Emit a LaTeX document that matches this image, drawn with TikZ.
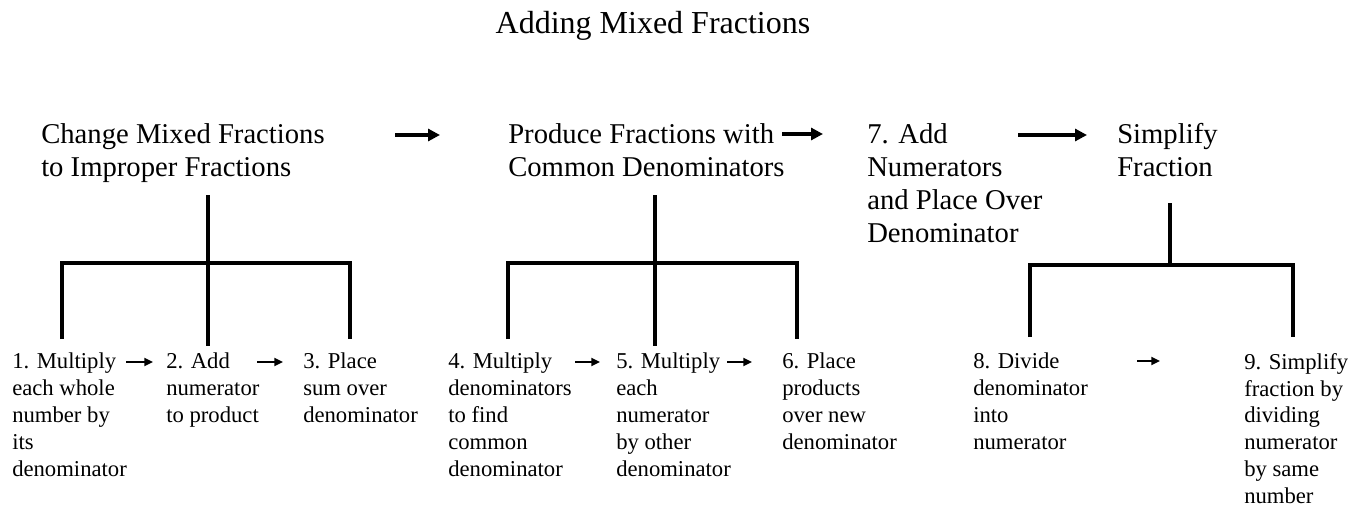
\documentclass[tikz,border=0pt]{standalone}
\usepackage{fontspec}
\setmainfont{Liberation Serif}
\usetikzlibrary{arrows.meta}
\begin{document}
\begin{tikzpicture}[x=0.75pt,y=-0.75pt,
  titletext/.style={font=\fontsize{24}{28}\selectfont, inner sep=0pt, anchor=base},
  mainstep/.style={font=\fontsize{21.5}{24.75}\selectfont, inner sep=0pt, anchor=north west, align=left},
  substep/.style={font=\fontsize{17}{20.1}\selectfont, inner sep=0pt, anchor=north west, align=left},
  tree/.style={line width=3pt, line join=miter},
  bigarrow/.style={line width=2.6pt, -{Triangle[length=9pt,width=9pt]}},
  smallarrow/.style={line width=1.4pt, -{Triangle[length=6.5pt,width=6pt]}}
]
\useasboundingbox (0,0) rectangle (1361,507);

\node[titletext] (title) at (653,33) {Adding Mixed Fractions};

% main steps
\node[mainstep] (A) at (41,123) {Change Mixed Fractions\\to Improper Fractions};
\node[mainstep] (B) at (508,123) {Produce Fractions with\\Common Denominators};
\node[mainstep] (C) at (867,123) {7. Add\\Numerators\\and Place Over\\Denominator};
\node[mainstep] (D) at (1117,123) {Simplify\\Fraction};

% main arrows
\coordinate (a1s) at (395,135); \coordinate (a1e) at (440,135);
\coordinate (a2s) at (782,134); \coordinate (a2e) at (823,134);
\coordinate (a3s) at (1018,135); \coordinate (a3e) at (1087,135);
\draw[bigarrow] (a1s) -- (a1e);
\draw[bigarrow] (a2s) -- (a2e);
\draw[bigarrow] (a3s) -- (a3e);

% sub steps
\node[substep] (s1) at (12,353) {1. Multiply\\each whole\\number by\\its\\denominator};
\node[substep] (s2) at (166,353) {2. Add\\numerator\\to product};
\node[substep] (s3) at (303,353) {3. Place\\sum over\\denominator};
\node[substep] (s4) at (448,353) {4. Multiply\\denominators\\to find\\common\\denominator};
\node[substep] (s5) at (616,353) {5. Multiply\\each\\numerator\\by other\\denominator};
\node[substep] (s6) at (782,353) {6. Place\\products\\over new\\denominator};
\node[substep] (s8) at (973,353) {8. Divide\\denominator\\into\\numerator};
\node[substep] (s9) at (1244,353) {9. Simplify\\fraction by\\dividing\\numerator\\by same\\number};

% sub arrows
\coordinate (b1s) at (126,362); \coordinate (b1e) at (153,362);
\coordinate (b2s) at (257,362); \coordinate (b2e) at (283,362);
\coordinate (b3s) at (575,362); \coordinate (b3e) at (600,362);
\coordinate (b4s) at (727,362); \coordinate (b4e) at (752,362);
\coordinate (b5s) at (1137,361); \coordinate (b5e) at (1160,361);
\draw[smallarrow] (b1s) -- (b1e);
\draw[smallarrow] (b2s) -- (b2e);
\draw[smallarrow] (b3s) -- (b3e);
\draw[smallarrow] (b4s) -- (b4e);
\draw[smallarrow] (b5s) -- (b5e);

% tree 1
\coordinate (t1top) at (208,195);
\coordinate (t1mid) at (208,346);
\draw[tree] (t1top) -- (t1mid);
\draw[tree] (62,339) -- (62,263) -- (350,263) -- (350,339);
% tree 2
\coordinate (t2top) at (655,195);
\coordinate (t2mid) at (655,346);
\draw[tree] (t2top) -- (t2mid);
\draw[tree] (508,339) -- (508,263) -- (797,263) -- (797,339);
% tree 3
\coordinate (t3top) at (1170,203);
\coordinate (t3bar) at (1170,265);
\draw[tree] (t3top) -- (t3bar);
\draw[tree] (1030,337) -- (1030,265) -- (1293,265) -- (1293,337);
\end{tikzpicture}
\end{document}
